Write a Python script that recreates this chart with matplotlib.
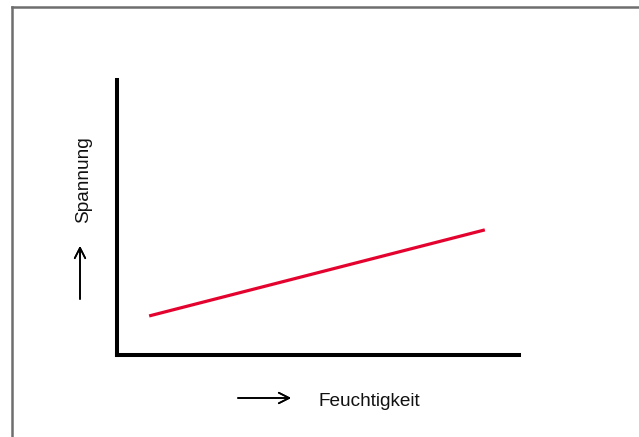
import matplotlib
matplotlib.use("Agg")
import matplotlib.pyplot as plt
from matplotlib.lines import Line2D

# Humidity vs. voltage: qualitative linear relation
feuchtigkeit = [0.8, 9.15]
spannung = [1.42, 4.55]
x_label = "Feuchtigkeit"
y_label = "Spannung"

W, H = 639, 437
fig = plt.figure(figsize=(W / 100, H / 100), dpi=100)
plt.rcParams['font.family'] = ['Liberation Sans', 'DejaVu Sans']

# Frame lines along top and left edge of the figure
fig.add_artist(Line2D([12 / W, 1], [1 - 6.5 / H, 1 - 6.5 / H], color="#6e6e6e", lw=1.8,
                      transform=fig.transFigure))
fig.add_artist(Line2D([12 / W, 12 / W], [0, 1 - 6.5 / H], color="#6e6e6e", lw=1.8,
                      transform=fig.transFigure))

ax = fig.add_axes([117 / W, (H - 355) / H, (519 - 117) / W, (355 - 80) / H])
ax.plot(feuchtigkeit, spannung, color="#e4032e", lw=2.3, solid_capstyle="butt")
ax.set_xlim(0, 10)
ax.set_ylim(0, 10)
for s in ("top", "right"):
    ax.spines[s].set_visible(False)
for s in ("left", "bottom"):
    ax.spines[s].set_linewidth(2.9)
    ax.spines[s].set_color("black")
ax.set_xticks([])
ax.set_yticks([])

# Axis captions with arrows
fig.text(318 / W, 1 - 401 / H, x_label, fontsize=13.7, va="center", ha="left", color="#111111")
fig.text(84 / W, 1 - 180 / H, y_label, fontsize=13.7, va="center", ha="center",
         rotation=90, color="#111111")
arrow = dict(arrowstyle="->,head_length=0.75,head_width=0.38", color="black", lw=1.2,
             shrinkA=0, shrinkB=0)
fig.add_artist(plt.annotate("", xy=(291 / W, 1 - 398 / H), xytext=(238 / W, 1 - 398 / H),
                            xycoords="figure fraction", arrowprops=arrow))
fig.add_artist(plt.annotate("", xy=(80 / W, 1 - 246 / H), xytext=(80 / W, 1 - 299 / H),
                            xycoords="figure fraction", arrowprops=arrow))

fig.savefig("out.png", dpi=100, facecolor="white")
